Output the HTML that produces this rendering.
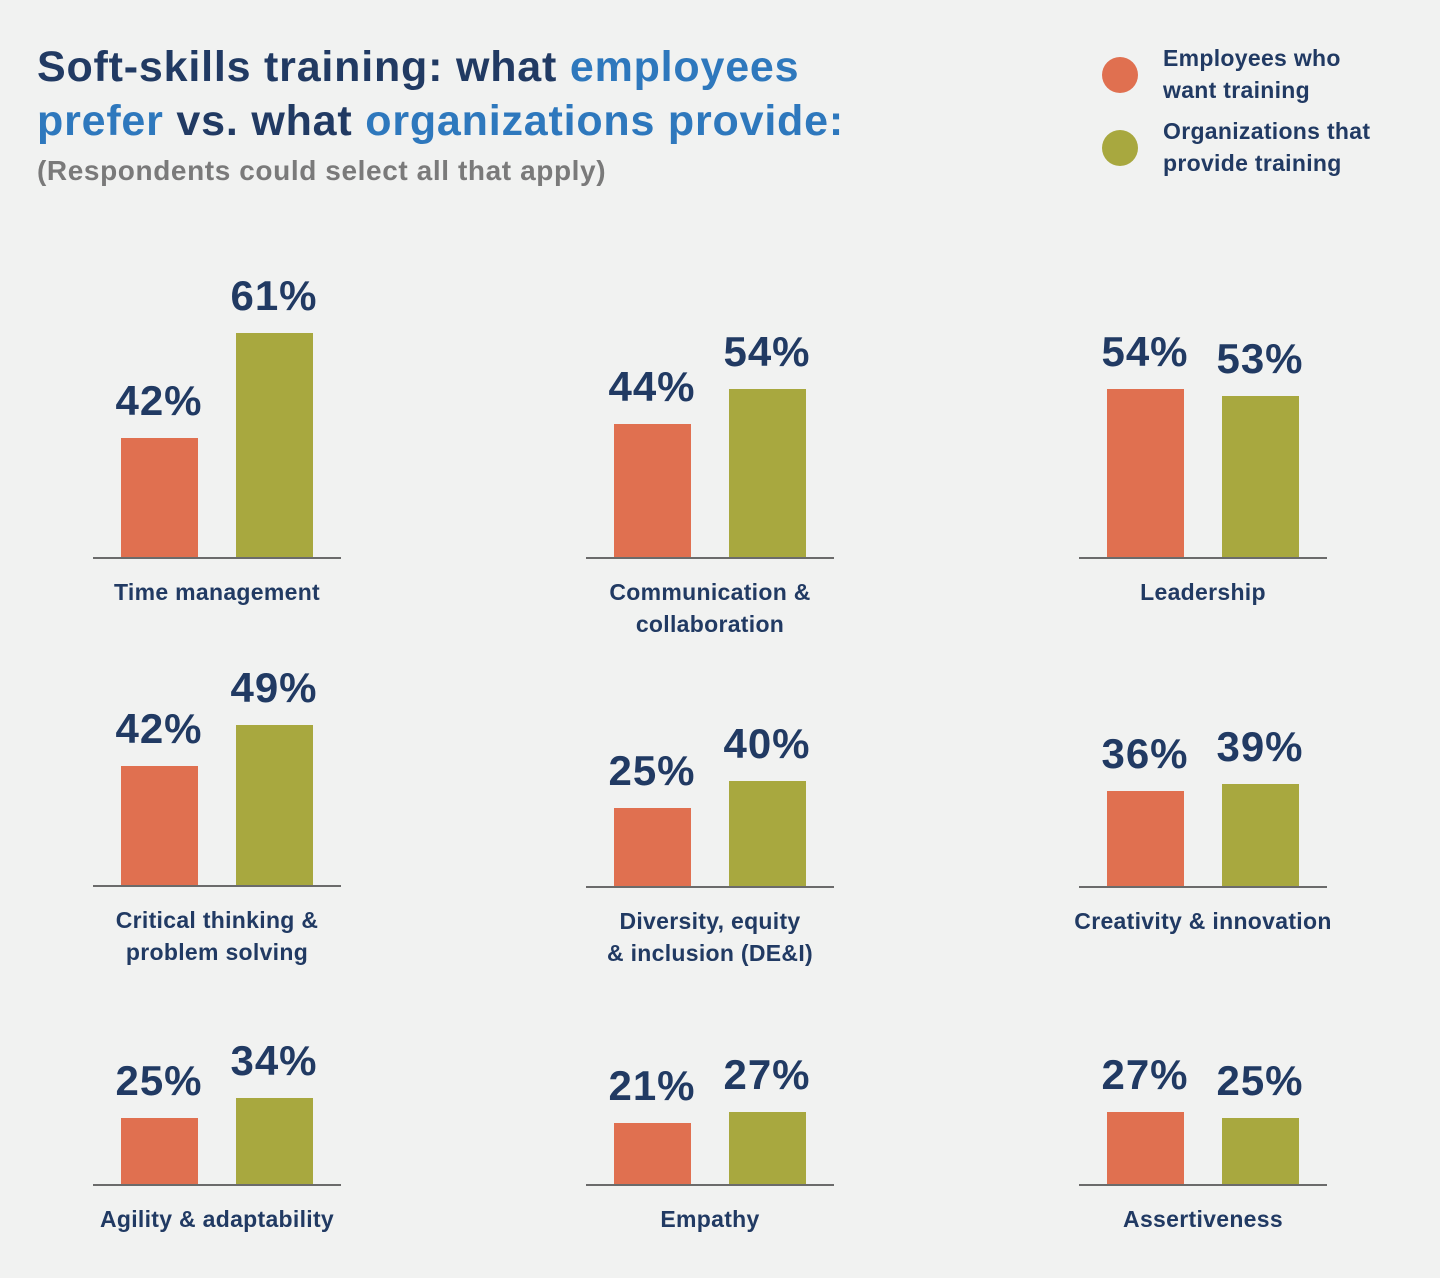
<!DOCTYPE html>
<html><head><meta charset="utf-8"><style>
*{margin:0;padding:0;box-sizing:border-box}
body{width:1440px;height:1278px;background:#f1f2f1;position:relative;overflow:hidden;font-family:"Liberation Sans",sans-serif}
.t{position:absolute;left:37px;font-weight:bold;font-size:43px;color:#213a63;white-space:nowrap;letter-spacing:0.8px}
.b{color:#2e78bd}
.sub{position:absolute;left:37px;top:155px;font-size:28px;font-weight:bold;color:#7a7a7a;white-space:nowrap;letter-spacing:0.6px}
.dot{position:absolute;width:36px;height:36px;border-radius:50%}
.lg{position:absolute;left:1163px;font-size:23px;font-weight:bold;color:#213a63;line-height:32px;letter-spacing:0.3px}
.bar{position:absolute;width:77px}
.o{background:#e07050}.g{background:#a8a83f}
.ax{position:absolute;width:248px;height:2px;background:#6b6b6b}
.v{position:absolute;width:140px;text-align:center;font-size:42px;font-weight:bold;color:#213a63;line-height:42px;letter-spacing:1px}
.c{position:absolute;width:320px;text-align:center;font-size:23px;font-weight:bold;color:#213a63;line-height:32px;letter-spacing:0.3px}
</style></head><body>
<div class="t" style="top:43px">Soft-skills training: what <span class="b">employees</span></div>
<div class="t" style="top:97px"><span class="b">prefer</span> vs. what <span class="b">organizations provide:</span></div>
<div class="sub">(Respondents could select all that apply)</div>
<div class="dot o" style="left:1102px;top:57px"></div>
<div class="dot g" style="left:1102px;top:130px"></div>
<div class="lg" style="top:42px">Employees who<br>want training</div>
<div class="lg" style="top:115px">Organizations that<br>provide training</div>
<div id="c"></div>
<script>
var P=[[93,558,438,333,42,61,"Time management"],[586,558,424,389,44,54,"Communication &amp;<br>collaboration"],[1079,558,389,396,54,53,"Leadership"],
[93,886,766,725,42,49,"Critical thinking &amp;<br>problem solving"],[586,887,808,781,25,40,"Diversity, equity<br>&amp; inclusion (DE&amp;I)"],[1079,887,791,784,36,39,"Creativity &amp; innovation"],
[93,1185,1118,1098,25,34,"Agility &amp; adaptability"],[586,1185,1123,1112,21,27,"Empathy"],[1079,1185,1112,1118,27,25,"Assertiveness"]];
var h="";
P.forEach(function(p){var x=p[0],b=p[1];
h+='<div class="bar o" style="left:'+(x+28)+'px;top:'+p[2]+'px;height:'+(b-p[2])+'px"></div>';
h+='<div class="bar g" style="left:'+(x+143)+'px;top:'+p[3]+'px;height:'+(b-p[3])+'px"></div>';
h+='<div class="ax" style="left:'+x+'px;top:'+(b-1)+'px"></div>';
h+='<div class="v" style="left:'+(x+28+38-70)+'px;top:'+(p[2]-58)+'px">'+p[4]+'%</div>';
h+='<div class="v" style="left:'+(x+143+38-70)+'px;top:'+(p[3]-58)+'px">'+p[5]+'%</div>';
h+='<div class="c" style="left:'+(x+124-160)+'px;top:'+(b+18)+'px">'+p[6]+'</div>';});
document.getElementById("c").innerHTML=h;
</script>
</body></html>
